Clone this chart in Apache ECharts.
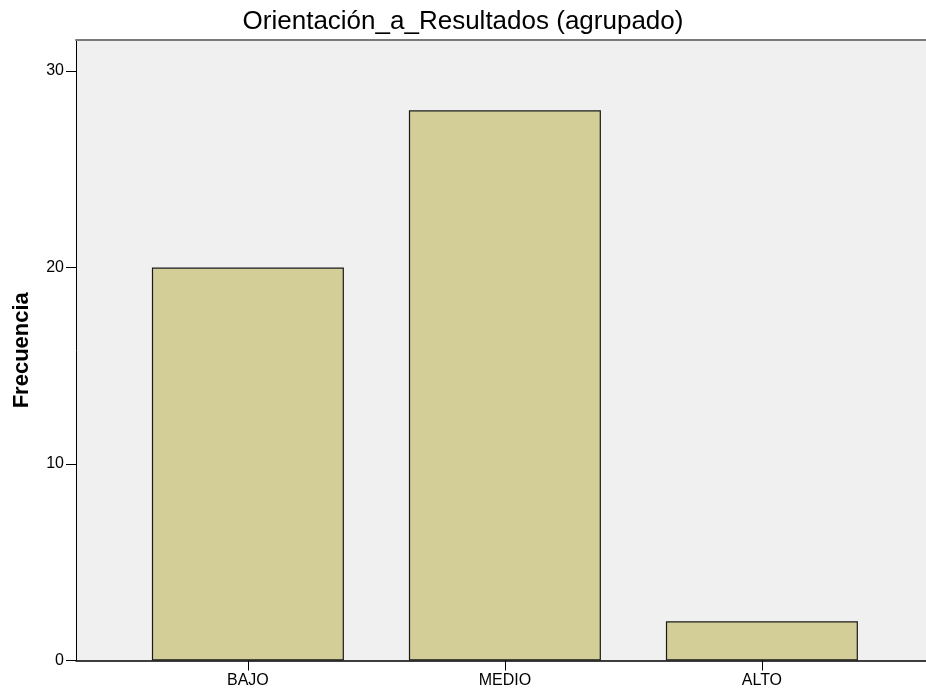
<!DOCTYPE html>
<html>
<head>
<meta charset="utf-8">
<script src="https://cdn.jsdelivr.net/npm/echarts@6/dist/echarts.min.js"></script>
<style>
html,body{margin:0;padding:0;background:#fff;}
#c{width:926px;height:696px;}
</style>
</head>
<body>
<div id="c"></div>
<script>
const titleText = 'Orientación_a_Resultados (agrupado)';
const yAxisName = 'Frecuencia';
const categories = ['BAJO', 'MEDIO', 'ALTO'];
const frequencies = [20, 28, 2];
const yTicks = [0, 10, 20, 30];
const yMax = 31.58;

const FONT = '"Liberation Sans", Arial, sans-serif';
const chart = echarts.init(document.getElementById('c'), null, {renderer: 'canvas'});

const option = {
  backgroundColor: '#ffffff',
  animation: false,
  title: {
    text: titleText,
    left: 'center',
    top: 4,
    textStyle: {fontFamily: FONT, fontSize: 26, fontWeight: 'normal', color: '#000'}
  },
  grid: [
    {left: 76, right: 0, top: 40, bottom: 35.5, show: true, backgroundColor: '#f0f0f0', borderWidth: 0},
    {left: 119.4, right: 35.6, top: 40, bottom: 35.5}
  ],
  xAxis: [
    {gridIndex: 0, type: 'value', min: 0, max: 1, position: 'bottom',
     axisLine: {show: true, lineStyle: {color: '#000', width: 1.5}},
     axisTick: {show: false}, axisLabel: {show: false}, splitLine: {show: false}},
    {gridIndex: 0, type: 'value', min: 0, max: 1, position: 'top',
     axisLine: {show: true, lineStyle: {color: '#7a7a7a', width: 2}},
     axisTick: {show: false}, axisLabel: {show: false}, splitLine: {show: false}},
    {gridIndex: 1, type: 'category', data: categories, position: 'bottom',
     axisLine: {show: false},
     axisTick: {show: true, alignWithLabel: true, length: 10, lineStyle: {color: '#000', width: 1}},
     axisLabel: {margin: 12, fontFamily: FONT, fontSize: 16, color: '#000'},
     splitLine: {show: false}}
  ],
  yAxis: [
    {gridIndex: 0, type: 'value', min: 0, max: yMax, interval: 10,
     name: yAxisName, nameLocation: 'middle', nameGap: 43, nameRotate: 90,
     nameTextStyle: {fontFamily: FONT, fontSize: 22, fontWeight: 'bold', color: '#000'},
     axisLine: {show: true, lineStyle: {color: '#000', width: 1}},
     axisTick: {show: true, length: 10, customValues: yTicks, lineStyle: {color: '#000', width: 1}},
     axisLabel: {margin: 12, customValues: yTicks, fontFamily: FONT, fontSize: 16, color: '#000'},
     splitLine: {show: false}},
    {gridIndex: 1, type: 'value', min: 0, max: yMax, interval: 10, show: false,
     splitLine: {show: false}}
  ],
  series: [{
    type: 'bar',
    xAxisIndex: 2,
    yAxisIndex: 1,
    data: frequencies,
    barWidth: 192,
    itemStyle: {color: '#d3ce97', borderColor: '#1a1a1a', borderWidth: 1.2}
  }]
};
chart.setOption(option);
</script>
</body>
</html>
